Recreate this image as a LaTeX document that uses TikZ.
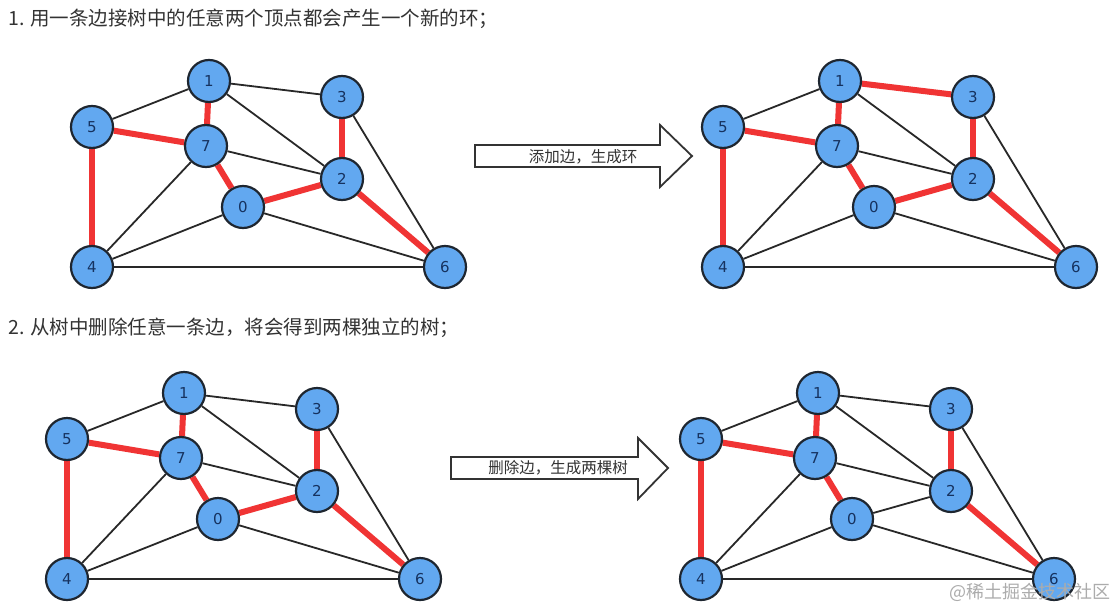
\documentclass[tikz,border=0pt]{standalone}
\usepackage{fontspec}
\setmainfont{Noto Sans CJK SC}
\newfontfamily\numfont{DejaVu Sans}
\usetikzlibrary{backgrounds}
\definecolor{nodefill}{RGB}{98,168,240}
\definecolor{nodeline}{RGB}{30,38,48}
\definecolor{numcol}{RGB}{22,50,95}
\definecolor{edgecol}{RGB}{40,40,40}
\definecolor{treecol}{RGB}{240,52,52}
\definecolor{headcol}{RGB}{51,51,51}
\tikzset{
  vtx/.style={circle, minimum size=42pt, inner sep=0pt, fill=nodefill, draw=nodeline, line width=2.2pt, text=numcol, font=\numfont\fontsize{15}{15}\selectfont},
  plain/.style={draw=edgecol, line width=1.8pt},
  tree/.style={draw=treecol, line width=6pt},
  heading/.style={anchor=west, text=headcol, font=\fontsize{19.5}{19.5}\selectfont, inner sep=0pt},
  bigarrow/.style={draw=headcol, fill=white, line width=1.8pt, line join=miter},
  arrowtext/.style={text=headcol, font=\fontsize{15.5}{15.5}\selectfont, inner sep=0pt},
}
\newcommand\drawgraph[5]{%
  \begin{scope}[shift={(#2,#3)}]
    \node[vtx] (#1-1) at (209,81) {1};
    \node[vtx] (#1-3) at (342,97) {3};
    \node[vtx] (#1-5) at (92,127) {5};
    \node[vtx] (#1-7) at (206,146) {7};
    \node[vtx] (#1-2) at (342,179) {2};
    \node[vtx] (#1-0) at (243,207) {0};
    \node[vtx] (#1-4) at (92,267) {4};
    \node[vtx] (#1-6) at (445,267) {6};
  \end{scope}
  \begin{scope}[on background layer]
    \draw[plain] (#1-1) -- (#1-5);
    \draw[#4] (#1-1) -- (#1-3);
    \draw[tree] (#1-1) -- (#1-7);
    \draw[plain] (#1-1) -- (#1-2);
    \draw[tree] (#1-5) -- (#1-7);
    \draw[tree] (#1-5) -- (#1-4);
    \draw[plain] (#1-7) -- (#1-2);
    \draw[tree] (#1-7) -- (#1-0);
    \draw[plain] (#1-7) -- (#1-4);
    \draw[tree] (#1-3) -- (#1-2);
    \draw[plain] (#1-3) -- (#1-6);
    \draw[#5] (#1-2) -- (#1-0);
    \draw[tree] (#1-2) -- (#1-6);
    \draw[plain] (#1-0) -- (#1-4);
    \draw[plain] (#1-0) -- (#1-6);
    \draw[plain] (#1-4) -- (#1-6);
  \end{scope}
}
\begin{document}
\begin{tikzpicture}[x=1pt, y=-1pt]
  \begin{scope}[on background layer]
    \fill[white] (0,0) rectangle (1117,608);
  \end{scope}
  \useasboundingbox (0,0) rectangle (1117,608);

  \node[heading] (h1) at (8,19) {1. 用一条边接树中的任意两个顶点都会产生一个新的环；};
  \node[heading] (h2) at (8,328) {2. 从树中删除任意一条边，将会得到两棵独立的树；};

  \drawgraph{a}{0}{0}{plain}{tree}
  \drawgraph{b}{631}{0}{tree}{tree}
  \drawgraph{c}{-25}{312}{plain}{tree}
  \drawgraph{d}{609}{312}{plain}{plain}

  \draw[bigarrow] (475,145) -- (660,145) -- (660,125) -- (692,156) -- (660,187) -- (660,167) -- (475,167) -- cycle;
  \node[arrowtext] (t1) at (583,157) {添加边，生成环};
  \draw[bigarrow] (451,457) -- (638,457) -- (638,438) -- (668,468) -- (638,499) -- (638,479) -- (451,479) -- cycle;
  \node[arrowtext] (t2) at (558,468) {删除边，生成两棵树};

  \node[anchor=east, text=gray!65, font=\fontsize{18}{18}\selectfont, inner sep=0pt] (wm) at (1111,592) {@稀土掘金技术社区};
\end{tikzpicture}
\end{document}
